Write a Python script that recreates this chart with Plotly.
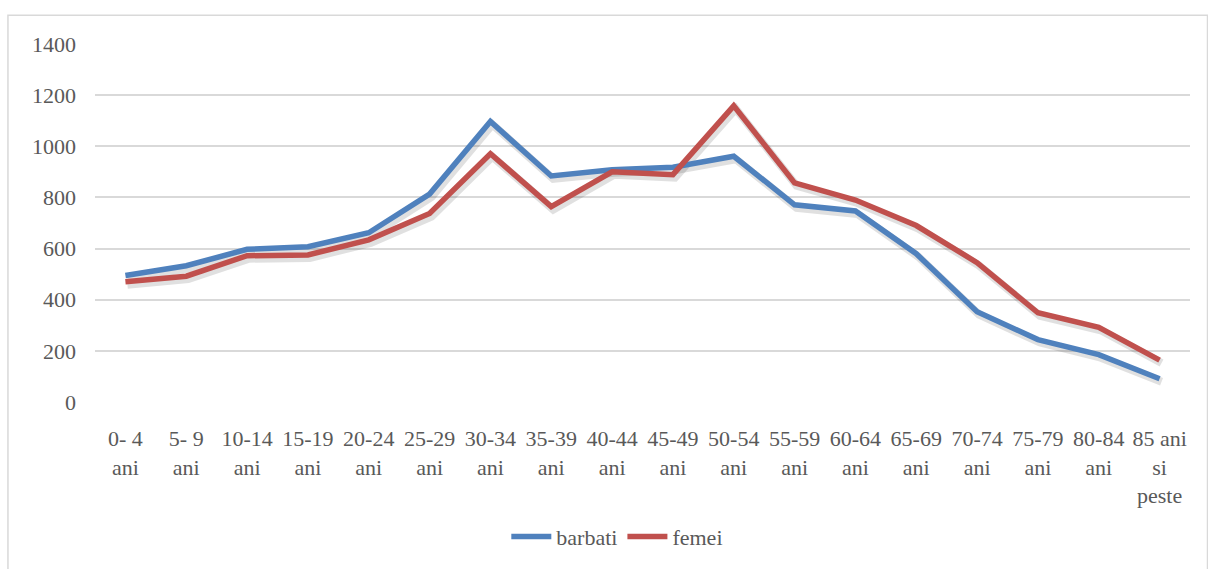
import plotly.graph_objects as go

# Age groups and population counts by sex
categorii = ["0- 4<br>ani", "5- 9<br>ani", "10-14<br>ani", "15-19<br>ani", "20-24<br>ani",
             "25-29<br>ani", "30-34<br>ani", "35-39<br>ani", "40-44<br>ani", "45-49<br>ani",
             "50-54<br>ani", "55-59<br>ani", "60-64<br>ani", "65-69<br>ani", "70-74<br>ani",
             "75-79<br>ani", "80-84<br>ani", "85 ani<br>si<br>peste"]
barbati = [495, 533, 597, 607, 662, 813, 1097, 884, 908, 918, 961, 771, 747, 580, 353, 244, 185, 91]
femei = [470, 492, 572, 575, 634, 737, 971, 764, 900, 889, 1158, 857, 790, 690, 545, 349, 292, 164]

y_ticks = [0, 200, 400, 600, 800, 1000, 1200, 1400]

BLUE = "#4f81bd"
RED = "#c0504d"
TEXT = "#595959"
GRID = "#d9d9d9"
FONT = "Times New Roman, Liberation Serif, DejaVu Serif, serif"
FSIZE = 22

x_range = [-0.5, len(categorii) - 0.5]
y_range = [0, 1400]

# soft drop shadow: same series on an overlaid axis pair whose ranges are nudged
px_per_x = 1095 / (x_range[1] - x_range[0])
units_per_ypx = (y_range[1] - y_range[0]) / 362
shadow_x_range = [x_range[0] - 2.0 / px_per_x, x_range[1] - 2.0 / px_per_x]
shadow_y_range = [y_range[0] + 3.0 * units_per_ypx, y_range[1] + 3.0 * units_per_ypx]

fig = go.Figure()

# base subplot carries the grid and tick labels (invisible placeholder trace)
fig.add_trace(go.Scatter(x=categorii, y=barbati, mode="lines", opacity=0,
                         showlegend=False, hoverinfo="skip"))

for vals in (barbati, femei):
    fig.add_trace(go.Scatter(
        x=categorii, y=vals, mode="lines", xaxis="x2", yaxis="y2",
        line=dict(color="rgba(0,0,0,0.12)", width=8), showlegend=False, hoverinfo="skip"))

fig.add_trace(go.Scatter(x=categorii, y=barbati, mode="lines", name="barbati",
                         xaxis="x3", yaxis="y3", line=dict(color=BLUE, width=5.5)))
fig.add_trace(go.Scatter(x=categorii, y=femei, mode="lines", name="femei",
                         xaxis="x3", yaxis="y3", line=dict(color=RED, width=5.5)))

hidden = dict(visible=False, showgrid=False, zeroline=False)

fig.update_layout(
    width=1208, height=569,
    margin=dict(l=95, r=18, t=44, b=163),
    paper_bgcolor="white", plot_bgcolor="white",
    font=dict(family=FONT, size=FSIZE, color=TEXT),
    xaxis=dict(type="category", categoryarray=categorii, range=x_range,
               showgrid=False, zeroline=False, showline=False, ticks="",
               tickfont=dict(family=FONT, size=FSIZE, color=TEXT),
               ticklabelstandoff=21, fixedrange=True),
    yaxis=dict(range=y_range, tickvals=y_ticks, showgrid=True, gridcolor=GRID,
               gridwidth=1.5, zeroline=False, showline=False, ticks="",
               tickfont=dict(family=FONT, size=FSIZE, color=TEXT),
               ticklabelstandoff=18, fixedrange=True),
    xaxis2=dict(type="category", categoryarray=categorii, range=shadow_x_range,
                overlaying="x", **hidden),
    yaxis2=dict(range=shadow_y_range, overlaying="y", **hidden),
    xaxis3=dict(type="category", categoryarray=categorii, range=x_range,
                overlaying="x", **hidden),
    yaxis3=dict(range=y_range, overlaying="y", **hidden),
    legend=dict(orientation="h", x=0.477, xanchor="center", y=-0.376, yanchor="middle",
                font=dict(family=FONT, size=FSIZE, color=TEXT), itemwidth=40,
                bgcolor="rgba(0,0,0,0)"),
    shapes=[dict(type="rect", xref="paper", yref="paper",
                 x0=-0.0795, x1=1.016, y0=-0.5, y1=1.080,
                 line=dict(color=GRID, width=1.5), fillcolor="rgba(0,0,0,0)",
                 layer="below")],
)

fig.write_html("out.html")
